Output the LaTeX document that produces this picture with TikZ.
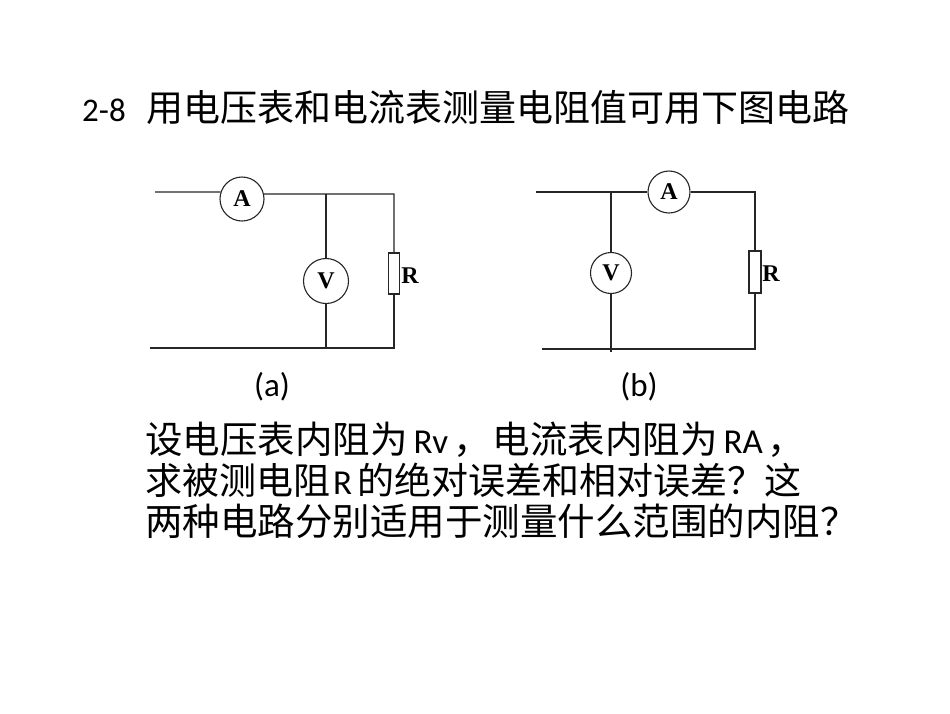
\documentclass[tikz,border=0pt]{standalone}
\usepackage{fontspec}
\setmainfont{Carlito}
\newfontfamily\cjk{Noto Sans CJK SC}
\newfontfamily\tms{Liberation Serif}
\newcommand\zh[1]{{\cjk\fontsize{37pt}{41pt}\selectfont #1}}
\newcommand\zhb[1]{{\cjk\fontsize{37.5pt}{41pt}\selectfont #1}}
\newcommand\zhc[1]{{\cjk\fontsize{37pt}{41pt}\selectfont #1}}
\begin{document}
\begin{tikzpicture}[x=1pt,y=-1pt,
  wire/.style={line width=1.2pt,draw=black!85},
  meter/.style={circle,draw=black!85,line width=1.1pt,inner sep=0pt,font=\tms\bfseries\fontsize{24pt}{24pt}\selectfont},
  resist/.style={rectangle,draw=black!85,line width=1.1pt,inner sep=0pt},
  rlabel/.style={font=\tms\bfseries\fontsize{24pt}{24pt}\selectfont,inner sep=0pt},
  txt/.style={anchor=base west,inner sep=0pt,font=\fontsize{35pt}{41pt}\selectfont},
  ttl/.style={anchor=base west,inner sep=0pt,font=\fontsize{33pt}{41pt}\selectfont},
  captxt/.style={anchor=base,inner sep=0pt,font=\fontsize{33pt}{40pt}\selectfont}]
\useasboundingbox[fill=white] (0,0) rectangle (950,713);

% title
\node[ttl] (title) at (82,121) {2-8\hspace{21pt}\zh{用电压表和电流表测量电阻值可用下图电路}};

% ---------- circuit (a)
\coordinate (a1) at (155,192);
\node[meter,minimum size=44pt] (Aa) at (242,199) {A};
\coordinate (ajt) at (326,194);
\coordinate (art) at (394,194);
\node[meter,minimum size=45pt] (Va) at (326,281) {V};
\coordinate (ajb) at (326,348);
\coordinate (abl) at (150,348);
\coordinate (arb) at (394,348);
\node[resist,minimum width=11pt,minimum height=41pt] (Ra) at (394,273.5) {};
\node[rlabel] (Ral) at (410,276) {R};
\draw[wire] (a1) -- (Aa.162);
\draw[wire] (Aa.13) -- (ajt) -- (art) -- (Ra.north);
\draw[wire] (ajt) -- (Va.north);
\draw[wire] (Va.south) -- (ajb);
\draw[wire] (Ra.south) -- (arb) -- (abl);

% ---------- circuit (b)
\coordinate (b1) at (536,192);
\coordinate (bjt) at (611,192);
\node[meter,minimum size=42pt] (Ab) at (669,192) {A};
\coordinate (brt) at (755,192);
\node[resist,minimum width=12pt,minimum height=42pt] (Rb) at (755,272) {};
\node[rlabel] (Rbl) at (771,274) {R};
\node[meter,minimum size=41pt] (Vb) at (611,273) {V};
\coordinate (bjb) at (611,352);
\coordinate (bbl) at (542,349);
\coordinate (brb) at (755,349);
\draw[wire] (b1) -- (Ab.west);
\draw[wire] (bjt) -- (Vb.north);
\draw[wire] (Vb.south) -- (bjb);
\draw[wire] (Ab.east) -- (brt) -- (Rb.north);
\draw[wire] (Rb.south) -- (brb) -- (bbl);

% captions
\node[captxt] (capa) at (272,396) {(a)};
\node[captxt] (capb) at (639,396) {(b)};

% body text
\node[txt] (l1) at (145,453) {\zhb{设电压表内阻为}\hspace{6pt}Rv\hspace{5pt}\zhb{，}\hspace{2pt}\zhb{电流表内阻为}\hspace{6pt}RA\hspace{5pt}\zhb{，}};
\node[txt] (l2) at (145,494) {\zhc{求被测电阻}\hspace{3pt}R\hspace{5pt}\zhc{的绝对误差和相对误差？这}};
\node[txt] (l3) at (145,535) {\zhb{两种电路分别适用于测量什么范围的内阻？}};
\end{tikzpicture}
\end{document}
